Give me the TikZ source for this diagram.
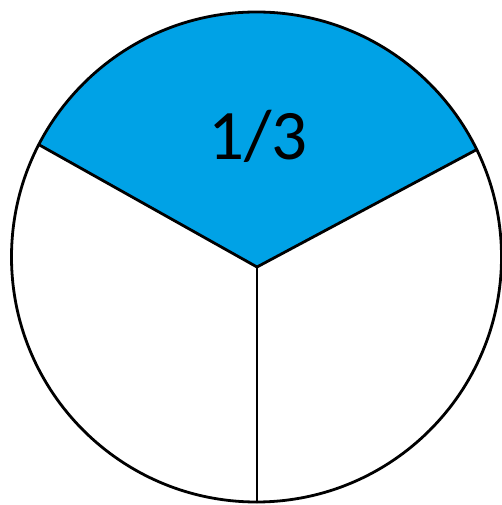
\documentclass[tikz,border=0pt]{standalone}
\usepackage{fontspec}
\setmainfont{Carlito}
\usepackage{xcolor}
\usepackage{tikz}
\usetikzlibrary{calc}
\definecolor{ThirdBlue}{HTML}{00A2E6}
\definecolor{Ink}{HTML}{000000}
\tikzset{
  every picture/.style={x=1pt, y=1pt},
  rimline/.style={draw=Ink, line width=2.8pt},
  spoke/.style={draw=Ink, line width=2.8pt, line cap=round},
  thirdfill/.style={fill=ThirdBlue},
  fraclabel/.style={font=\fontsize{71}{85}\selectfont, text=Ink, inner sep=0pt}
}

\begin{document}
\begin{tikzpicture}
  \useasboundingbox (0,0) rectangle (501,505);
  \coordinate (c) at (256.5,248);
  \coordinate (hub) at (257,238);
  \coordinate (left) at ($(c)+(152.7:245)$);
  \coordinate (right) at ($(c)+(26:245)$);
  \coordinate (bottom) at (257,3);

  % shaded third
  \fill[thirdfill] (hub) -- (left) arc[start angle=152.7, end angle=26, radius=245] -- cycle;

  \draw[spoke] (hub) -- (left);
  \draw[spoke] (hub) -- (right);
  \draw[spoke] (hub) -- (bottom);
  \draw[rimline] (c) circle[radius=245];

  \node[fraclabel] (third) at (258,369) {1/3};
\end{tikzpicture}
\end{document}
